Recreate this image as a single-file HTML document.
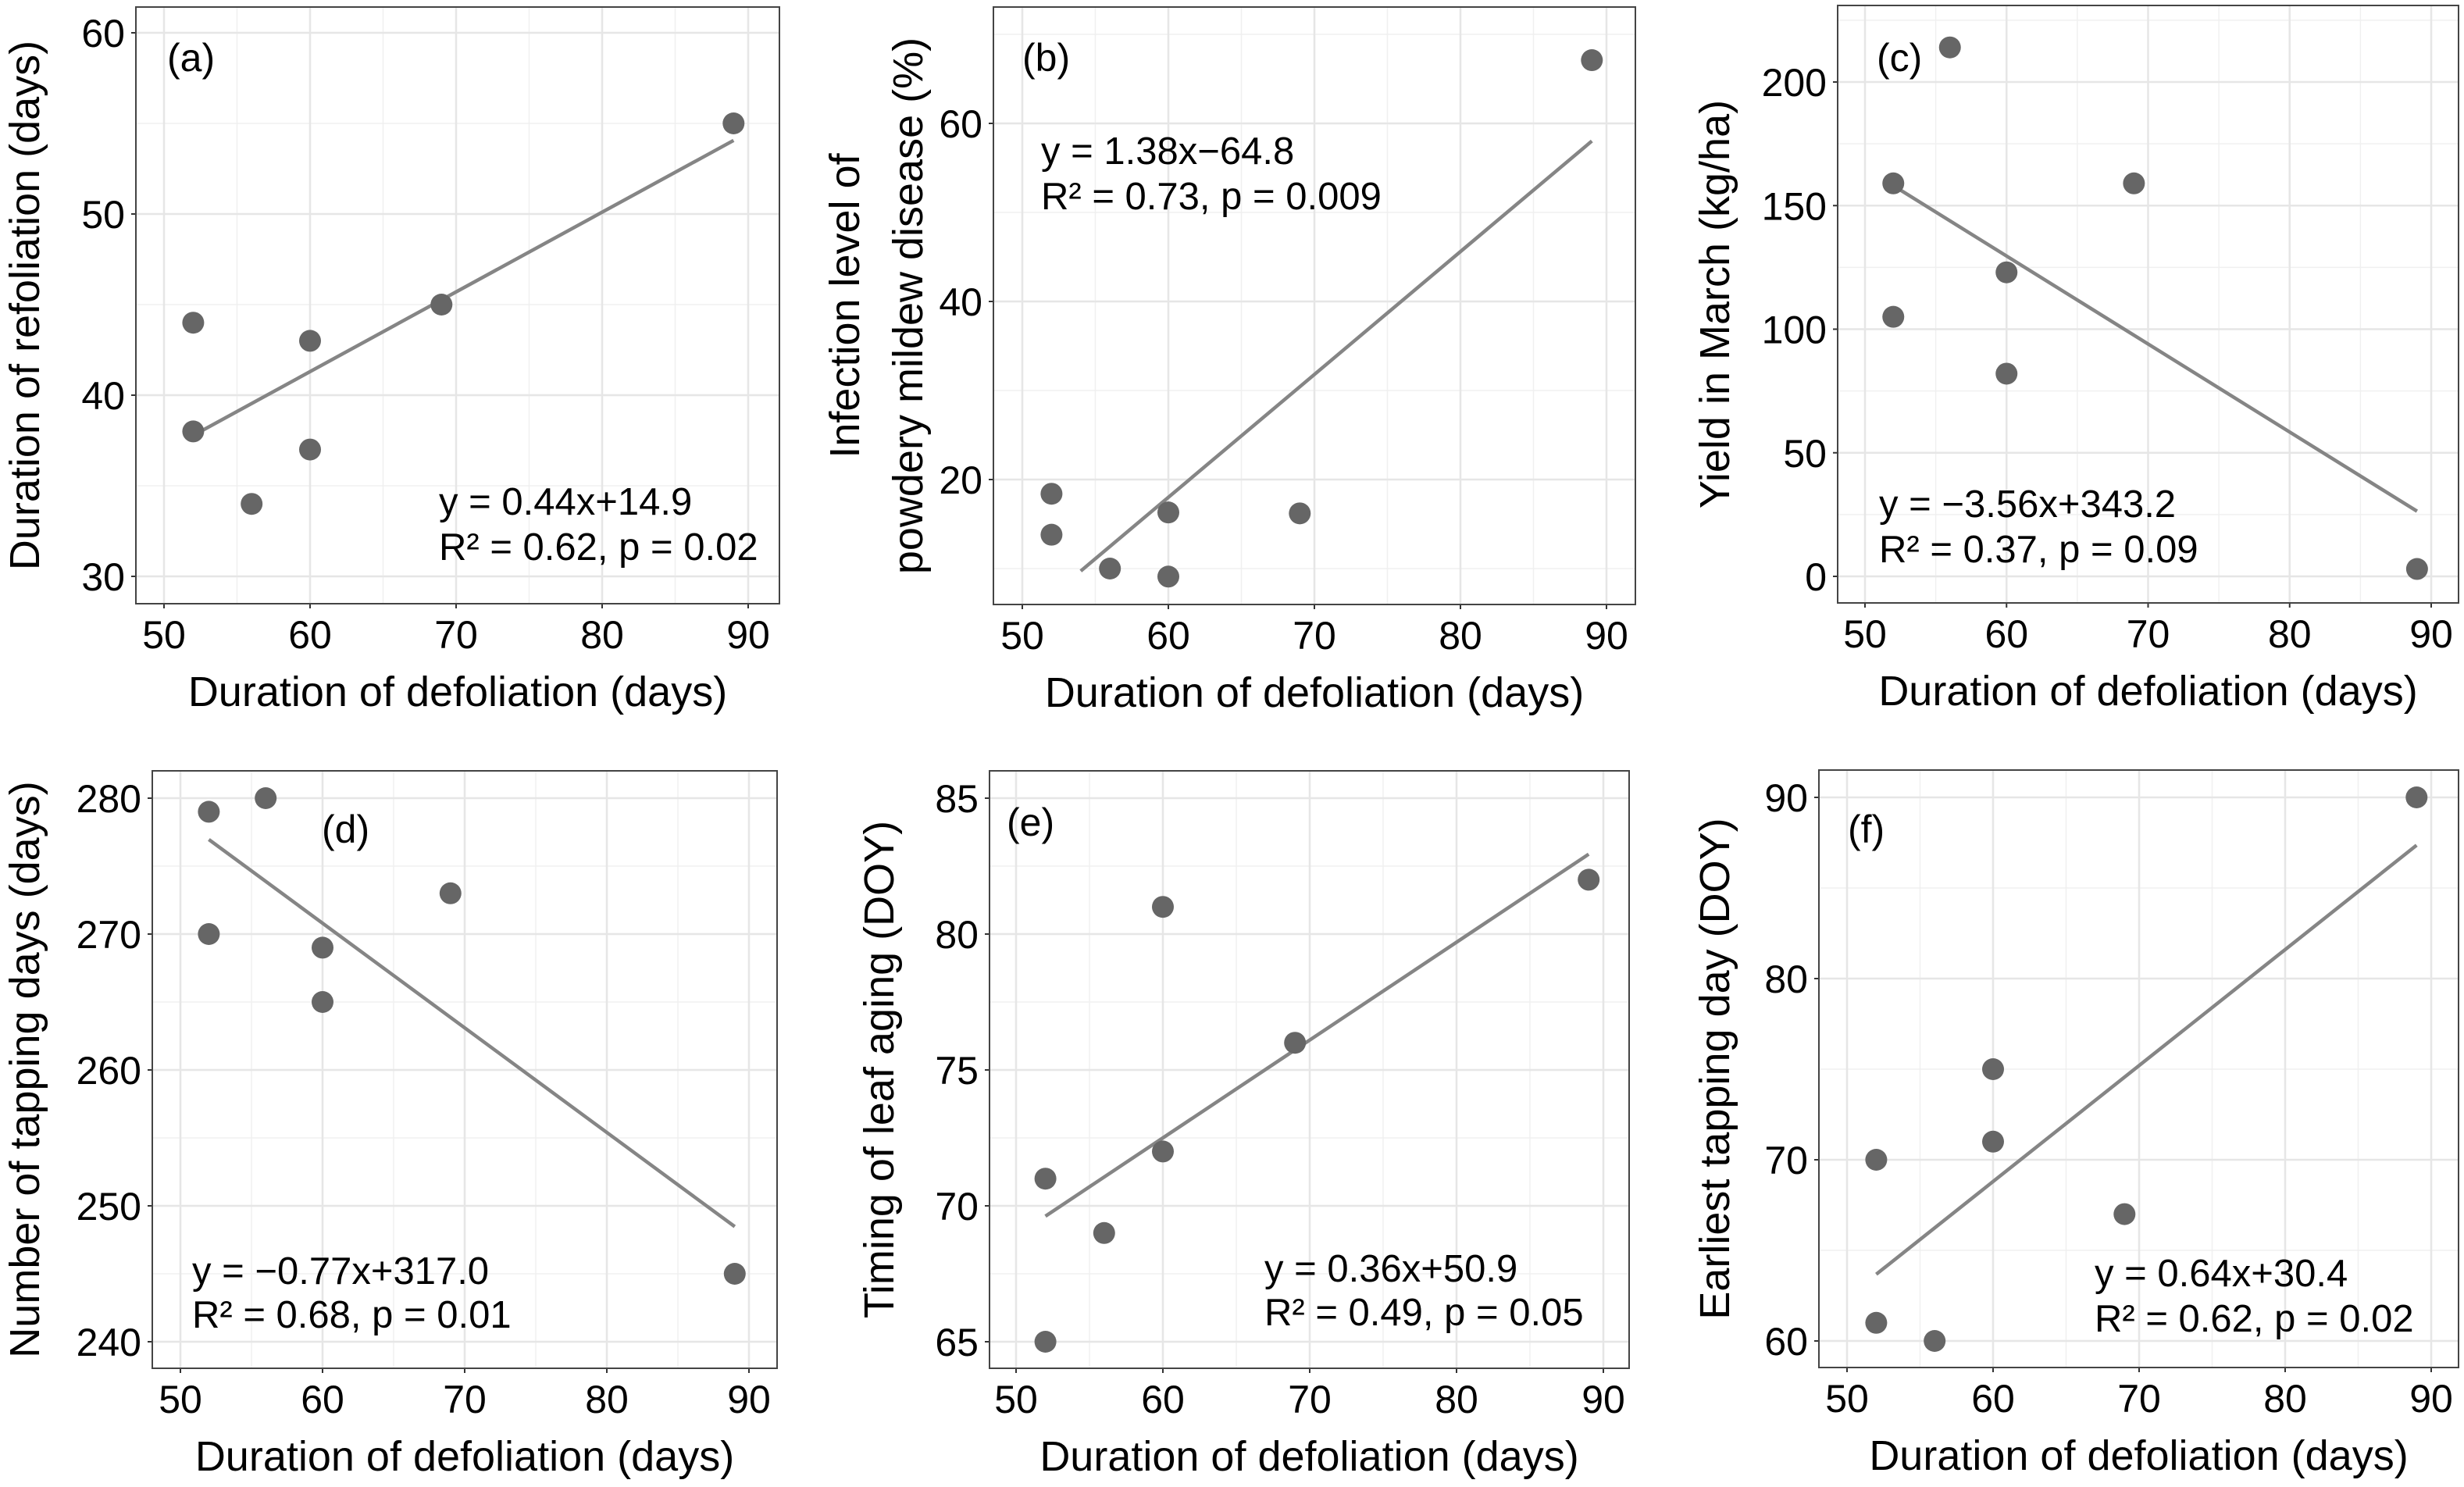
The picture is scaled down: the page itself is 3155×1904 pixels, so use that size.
<!DOCTYPE html>
<html><head><meta charset="utf-8"><title>Defoliation scatter panels</title>
<style>html,body{margin:0;padding:0;background:#fff}svg{display:block}text{font-family:"Liberation Sans",Arial,sans-serif;fill:#000}</style>
</head><body>
<svg id="fig" width="3155" height="1904" viewBox="0 0 3155 1904" xmlns="http://www.w3.org/2000/svg"></svg>
<script>
// ---- data ----
const xTicks = [50, 60, 70, 80, 90];
const xMinor = [55, 65, 75, 85];
const xA = [52, 52, 56, 60, 60, 69, 89];
const yA = [44, 38, 34, 43, 37, 45, 55];
const xB = [52, 52, 56, 60, 60, 69, 89];
const yB = [18.4, 13.8, 10.0, 16.3, 9.1, 16.2, 67.1];
const xC = [52, 52, 56, 60, 60, 69, 89];
const yC = [159, 105, 214, 123, 82, 159, 3];
const xD = [52, 52, 56, 60, 60, 69, 89];
const yD = [279, 270, 280, 269, 265, 273, 245];
const xE = [52, 52, 56, 60, 60, 69, 89];
const yE = [71, 65, 69, 81, 72, 76, 82];
const xF = [52, 52, 56, 60, 60, 69, 89];
const yF = [70, 61, 60, 75, 71, 67, 90];
const slopes = [0.44, 1.38, -3.56, -0.77, 0.36, 0.64];
const intercepts = [14.9, -64.8, 343.2, 317.0, 50.9, 30.4];
const fitStart = [52, 54, 52, 52, 52, 52];
const fitEnd = [89, 89, 89, 89, 89, 89];
const yTicksA = [30, 40, 50, 60];  const yMinorA = [35, 45, 55];
const yTicksB = [20, 40, 60];      const yMinorB = [10, 30, 50, 70];
const yTicksC = [0, 50, 100, 150, 200]; const yMinorC = [25, 75, 125, 175, 225];
const yTicksD = [240, 250, 260, 270, 280]; const yMinorD = [245, 255, 265, 275];
const yTicksE = [65, 70, 75, 80, 85]; const yMinorE = [67.5, 72.5, 77.5, 82.5];
const yTicksF = [60, 70, 80, 90];  const yMinorF = [65, 75, 85];
const eqText = ["y = 0.44x+14.9","y = 1.38x\u221264.8","y = \u22123.56x+343.2","y = \u22120.77x+317.0","y = 0.36x+50.9","y = 0.64x+30.4"];
const statText = ["R\u00b2 = 0.62, p = 0.02","R\u00b2 = 0.73, p = 0.009","R\u00b2 = 0.37, p = 0.09","R\u00b2 = 0.68, p = 0.01","R\u00b2 = 0.49, p = 0.05","R\u00b2 = 0.62, p = 0.02"];
const panelLabels = ["(a)","(b)","(c)","(d)","(e)","(f)"];
const yTitles = [["Duration of refoliation (days)"],["Infection level of","powdery mildew disease (%)"],["Yield in March (kg/ha)"],["Number of tapping days (days)"],["Timing of leaf aging (DOY)"],["Earliest tapping day (DOY)"]];

// ---- layout ----
const panels = [
 {id:"a",xs:xA,ys:yA,yt:yTicksA,ym:yMinorA,L:174,R:998,T:9,B:773,x0:210,x1:958,yv0:30,yp0:738,yv1:60,yp1:42,lab:[214,91],ann:[562,659,717],yTitleX:[50]},
 {id:"b",xs:xB,ys:yB,yt:yTicksB,ym:yMinorB,L:1272,R:2094,T:9,B:774,x0:1309,x1:2057,yv0:20,yp0:614,yv1:60,yp1:158,lab:[1309,91],ann:[1333,210,268],yTitleX:[1100,1181]},
 {id:"c",xs:xC,ys:yC,yt:yTicksC,ym:yMinorC,L:2353,R:3148,T:7,B:772,x0:2388,x1:3113,yv0:0,yp0:738,yv1:200,yp1:105,lab:[2403,91],ann:[2406,662,720],yTitleX:[2214]},
 {id:"d",xs:xD,ys:yD,yt:yTicksD,ym:yMinorD,L:195,R:995,T:987,B:1752,x0:231,x1:959,yv0:240,yp0:1718,yv1:280,yp1:1022,lab:[412,1079],ann:[246,1644,1700],yTitleX:[50]},
 {id:"e",xs:xE,ys:yE,yt:yTicksE,ym:yMinorE,L:1267,R:2086,T:987,B:1752,x0:1301,x1:2053,yv0:65,yp0:1718,yv1:85,yp1:1022,lab:[1289,1070],ann:[1619,1641,1697],yTitleX:[1144]},
 {id:"f",xs:xF,ys:yF,yt:yTicksF,ym:yMinorF,L:2329,R:3148,T:986,B:1751,x0:2365,x1:3113,yv0:60,yp0:1717,yv1:90,yp1:1021,lab:[2366,1079],ann:[2682,1647,1705],yTitleX:[2214]}
];
const NS="http://www.w3.org/2000/svg";
const svg=document.getElementById("fig");
function mk(tag,attrs,parent){const e=document.createElementNS(NS,tag);for(const k in attrs)e.setAttribute(k,attrs[k]);parent.appendChild(e);return e;}

panels.forEach((p,i)=>{
  const sx=v=>p.x0+(v-50)*(p.x1-p.x0)/40;
  const sy=v=>p.yp0+(v-p.yv0)*(p.yp1-p.yp0)/(p.yv1-p.yv0);
  const g=mk("g",{},svg);
  
  
  const bg=mk("rect",{x:p.L,y:p.T,width:p.R-p.L,height:p.B-p.T,fill:"#fff"},g);
  
  
  xMinor.forEach(v=>{const l=mk("line",{x1:sx(v),x2:sx(v),y1:p.T,y2:p.B,stroke:"#f0f0f0","stroke-width":1.5},g);
    
    });
  p.ym.forEach(v=>{const y=sy(v);if(y<p.T||y>p.B)return;const l=mk("line",{x1:p.L,x2:p.R,y1:y,y2:y,stroke:"#f0f0f0","stroke-width":1.5},g);
    
    });
  xTicks.forEach(v=>{const x=sx(v);
    const l=mk("line",{x1:x,x2:x,y1:p.T,y2:p.B,stroke:"#e6e6e6","stroke-width":2.5},g);
    
    
    const tk=mk("line",{x1:x,x2:x,y1:p.B,y2:p.B+6,stroke:"#333","stroke-width":2},g);
    
    
    const t=mk("text",{x:x,y:p.B+57,"text-anchor":"middle","font-size":50},g);t.textContent=v;
    
    });
  p.yt.forEach(v=>{const y=sy(v);
    const l=mk("line",{x1:p.L,x2:p.R,y1:y,y2:y,stroke:"#e6e6e6","stroke-width":2.5},g);
    
    
    const tk=mk("line",{x1:p.L-6,x2:p.L,y1:y,y2:y,stroke:"#333","stroke-width":2},g);
    
    
    const t=mk("text",{x:p.L-14,y:y+18,"text-anchor":"end","font-size":50},g);t.textContent=v;
    
    });
  const fl=mk("line",{x1:sx(fitStart[i]),y1:sy(slopes[i]*fitStart[i]+intercepts[i]),x2:sx(fitEnd[i]),y2:sy(slopes[i]*fitEnd[i]+intercepts[i]),stroke:"#858585","stroke-width":4.5},g);
  
  
  p.xs.forEach((xv,j)=>{const c=mk("circle",{cx:sx(xv),cy:sy(p.ys[j]),r:14,fill:"#666"},g);
    
    });
  const bd=mk("rect",{x:p.L,y:p.T,width:p.R-p.L,height:p.B-p.T,fill:"none",stroke:"#444","stroke-width":2},g);
  
  
  const pl=mk("text",{x:p.lab[0],y:p.lab[1],"font-size":50},g);pl.textContent=panelLabels[i];
  
  
  const e1=mk("text",{x:p.ann[0],y:p.ann[1],"font-size":49},g);e1.textContent=eqText[i];
  
  
  const e2=mk("text",{x:p.ann[0],y:p.ann[2],"font-size":49},g);e2.textContent=statText[i];
  
  
  const xt=mk("text",{x:(p.L+p.R)/2,y:p.B+131,"text-anchor":"middle","font-size":54},g);xt.textContent="Duration of defoliation (days)";
  
  
  const cy=(p.T+p.B)/2;
  yTitles[i].forEach((s,k)=>{const yt=mk("text",{x:0,y:0,"text-anchor":"middle","font-size":54,transform:"translate("+p.yTitleX[k]+","+cy+") rotate(-90)"},g);yt.textContent=s;
    
    });
});
</script>
</body></html>
